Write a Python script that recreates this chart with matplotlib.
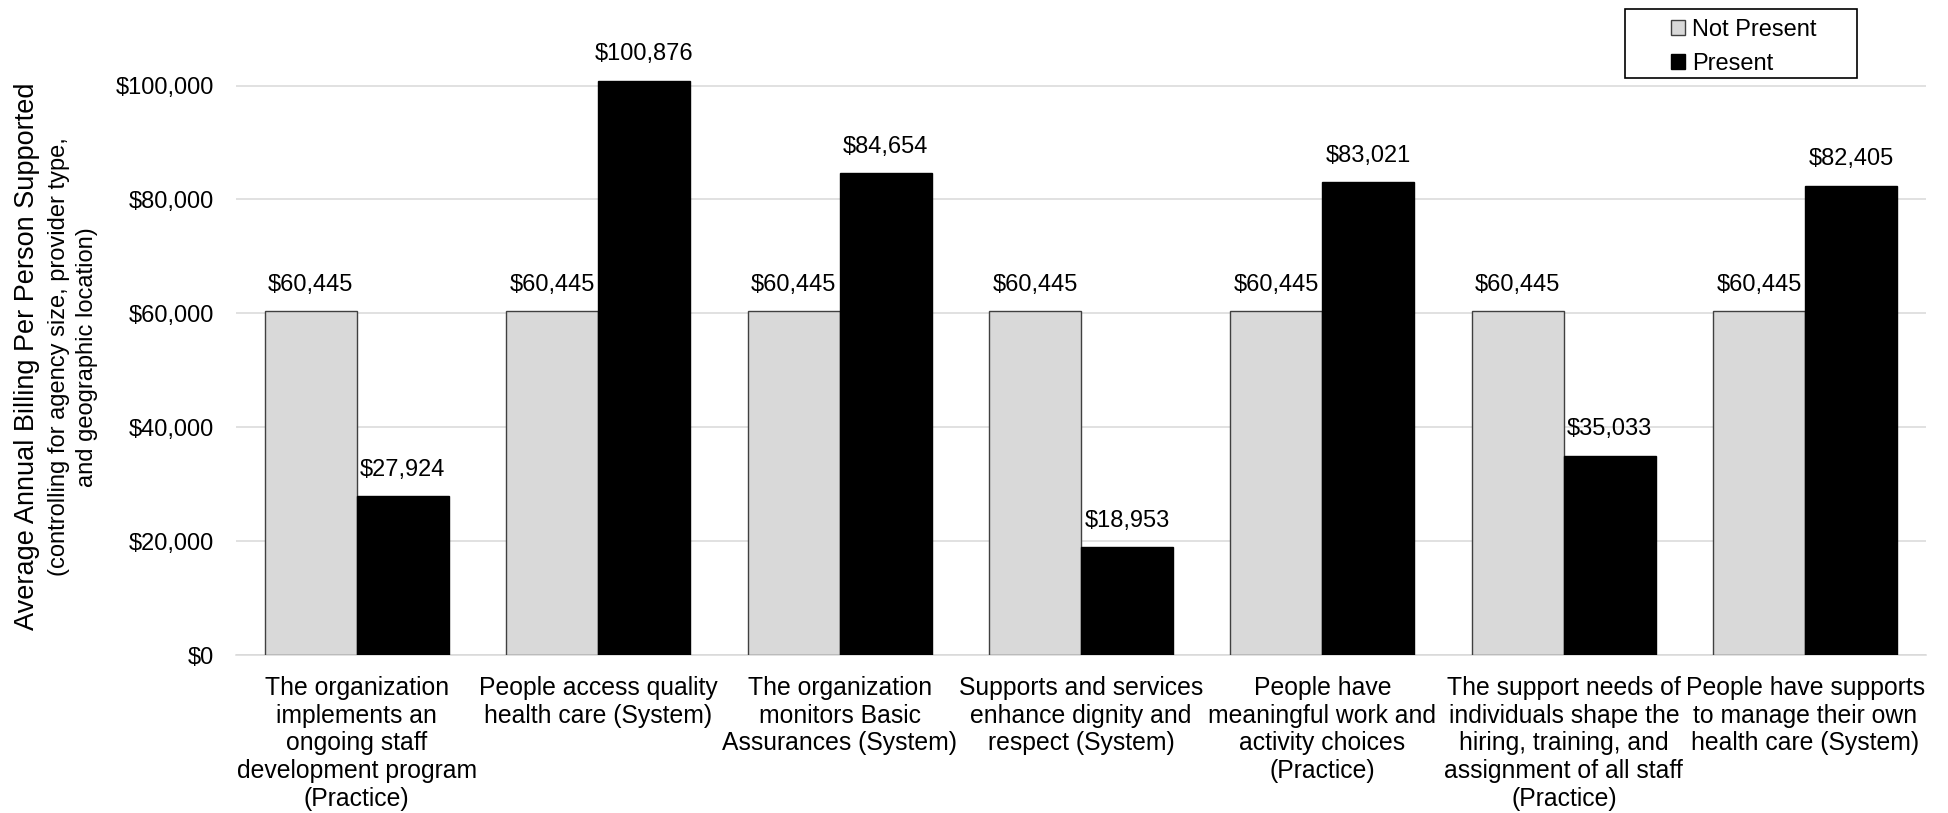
import matplotlib
matplotlib.use('Agg')
import matplotlib.pyplot as plt
from matplotlib.patches import Rectangle
import numpy as np

plt.rcParams['font.family'] = ['Liberation Sans', 'DejaVu Sans']

# Данные
categories = [
	'The organization\nimplements an\nongoing staff\ndevelopment program\n(Practice)',
	'People access quality\nhealth care (System)',
	'The organization\nmonitors Basic\nAssurances (System)',
	'Supports and services\nenhance dignity and\nrespect (System)',
	'People have\nmeaningful work and\nactivity choices\n(Practice)',
	'The support needs of\nindividuals shape the\nhiring, training, and\nassignment of all staff\n(Practice)',
	'People have supports\nto manage their own\nhealth care (System)',
]
not_present = [60445, 60445, 60445, 60445, 60445, 60445, 60445]
present = [27924, 100876, 84654, 18953, 83021, 35033, 82405]
series_names = ['Not Present', 'Present']
y_ticks = [0, 20000, 40000, 60000, 80000, 100000]

W, H = 1948, 813
fig = plt.figure(figsize=(W / 100, H / 100), dpi=100)
ax = fig.add_axes([236 / W, 1 - 655 / H, (1926 - 236) / W, (655 - 28.6) / H])

x = np.arange(len(categories))
width = 0.381

bars1 = ax.bar(x - width / 2, not_present, width, color='#d9d9d9', edgecolor='#404040',
               linewidth=1.0, label=series_names[0], zorder=3)
bars2 = ax.bar(x + width / 2, present, width, color='black', edgecolor='black',
               linewidth=1.0, label=series_names[1], zorder=3)

# Подписи значений
for bars in (bars1, bars2):
	for b in bars:
		ax.annotate(f'${b.get_height():,.0f}', (b.get_x() + b.get_width() / 2, b.get_height()),
		            xytext=(0, 11), textcoords='offset points', ha='center', va='bottom',
		            fontsize=17)

ax.set_xlim(-0.5, len(categories) - 0.5)
ax.set_ylim(0, 110000)
ax.set_yticks(y_ticks)
ax.set_yticklabels([f'${v:,}' for v in y_ticks], fontsize=17)
ax.set_xticks(x)
ax.set_xticklabels(categories, fontsize=17.8, linespacing=1.2)
ax.tick_params(axis='both', length=0)
ax.tick_params(axis='x', pad=15)
ax.tick_params(axis='y', pad=16)

ax.grid(axis='y', color='#d9d9d9', linewidth=1.1, zorder=0)
for s in ['top', 'right', 'left']:
	ax.spines[s].set_visible(False)
ax.spines['bottom'].set_color('#d9d9d9')
ax.spines['bottom'].set_linewidth(1.1)

# Подпись оси Y
fig.text(27 / W, 1 - 356 / H, 'Average Annual Billing Per Person Supported',
         rotation=90, ha='center', va='center', fontsize=19.5)
fig.text(73 / W, 1 - 357 / H, '(controlling for agency size, provider type,\nand geographic location)',
         rotation=90, ha='center', va='center', fontsize=17, multialignment='center',
         linespacing=1.35)

# Легенда
leg = fig.legend(handles=[bars1, bars2], labels=series_names, loc='upper left',
                 bbox_to_anchor=(1671 / W, 1 - 19 / H), fontsize=17, frameon=False,
                 handlelength=0.6, handleheight=0.6, handletextpad=0.3,
                 borderpad=0, borderaxespad=0, labelspacing=0.52)
fig.add_artist(Rectangle((1625 / W, 1 - 78 / H), (1857 - 1625) / W, (78 - 9) / H,
                         transform=fig.transFigure, fill=False, edgecolor='black',
                         linewidth=1.2))

fig.savefig('out.png', dpi=100)
